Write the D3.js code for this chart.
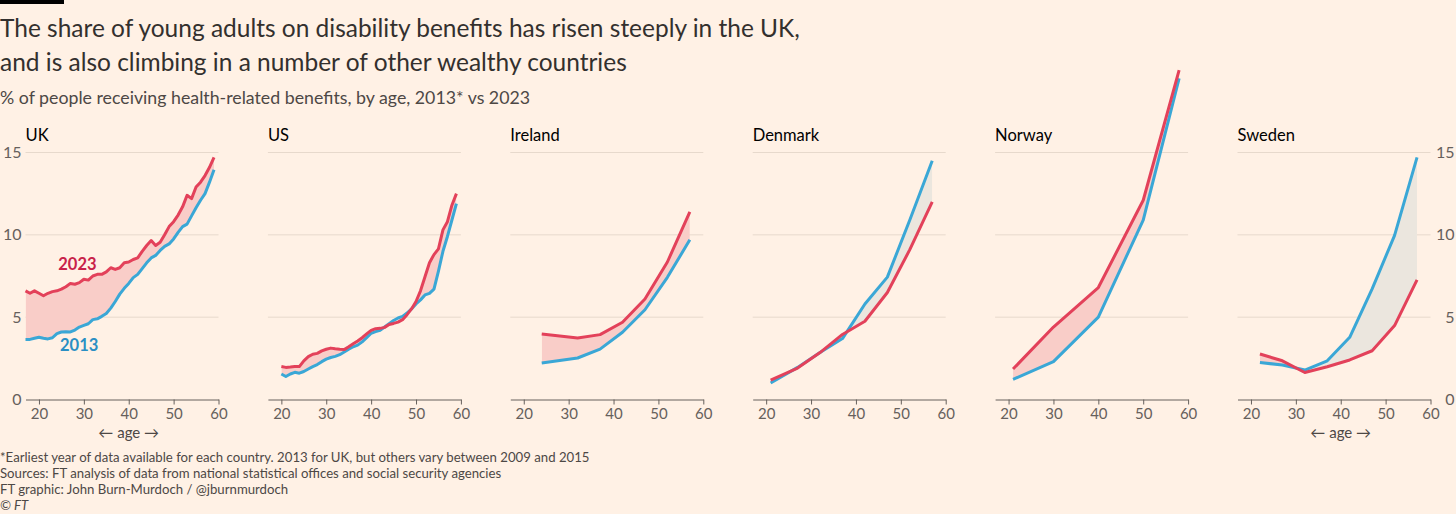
<!DOCTYPE html>
<html><head><meta charset="utf-8">
<script src="https://cdn.jsdelivr.net/npm/d3@7/dist/d3.min.js"></script>
<style>
body{margin:0;background:#fff1e5;}
svg{display:block;font-family:Lato,"Noto Sans",sans-serif;}
</style>
</head><body>
<svg id="chart" width="1456" height="514"></svg>
<script>
// ---------------- DATA ----------------
const countries = ["UK", "US", "Ireland", "Denmark", "Norway", "Sweden"];

const ukAges = [17,18,19,20,21,22,23,24,25,26,27,28,29,30,31,32,33,34,35,36,37,38,39,40,41,42,43,44,45,46,47,48,49,50,51,52,53,54,55,56,57,58,59];
const uk2013 = [3.65,3.65,3.72,3.78,3.72,3.68,3.75,4.0,4.1,4.12,4.1,4.22,4.4,4.5,4.6,4.85,4.9,5.05,5.22,5.55,5.95,6.4,6.75,7.05,7.4,7.6,7.95,8.3,8.6,8.75,9.05,9.3,9.45,9.75,10.15,10.5,10.65,11.15,11.65,12.1,12.5,13.2,13.95];
const uk2023 = [6.6,6.45,6.6,6.45,6.3,6.45,6.55,6.6,6.7,6.85,7.05,7.0,7.1,7.3,7.25,7.5,7.6,7.6,7.75,8.0,7.9,8.0,8.3,8.35,8.5,8.6,9.0,9.35,9.65,9.35,9.55,10.0,10.5,10.8,11.2,11.7,12.4,12.2,12.9,13.2,13.6,14.1,14.7];

const usAges = [20,21,22,23,24,25,26,27,28,29,30,31,32,33,34,35,36,37,38,39,40,41,42,43,44,45,46,47,48,49,50,51,52,53,54,55,56,57,58,59];
const us2013 = [1.55,1.4,1.55,1.65,1.6,1.7,1.85,2.0,2.12,2.3,2.45,2.55,2.62,2.72,2.88,3.05,3.2,3.3,3.5,3.75,4.02,4.12,4.2,4.4,4.6,4.8,4.95,5.05,5.25,5.5,5.8,6.05,6.35,6.45,6.7,7.8,9.0,9.9,10.9,11.9];
const us2023 = [2.0,1.95,1.97,2.0,2.0,2.35,2.6,2.75,2.8,2.95,3.05,3.12,3.08,3.05,3.03,3.2,3.38,3.55,3.75,3.98,4.2,4.3,4.32,4.38,4.55,4.62,4.7,4.85,5.15,5.5,5.95,6.6,7.45,8.3,8.8,9.15,10.3,10.8,11.8,12.5];

const ieAges = [24,32,37,42,47,52,57];
const ie2013 = [2.21,2.52,3.06,4.08,5.45,7.42,9.7];
const ie2023 = [3.98,3.73,3.94,4.69,6.1,8.35,11.4];

const dkAges = [21,27,32,37,42,47,52,57];
const dk2013 = [1.0,1.95,2.85,3.7,5.8,7.43,10.9,14.5];
const dk2023 = [1.18,1.91,2.85,3.95,4.75,6.5,9.1,12.0];

const noAges = [21,30,40,50,58];
const no2013 = [1.22,2.3,5.0,10.9,19.5];
const no2023 = [1.85,4.4,6.8,12.1,20.0];

const seAges = [22,27,32,37,42,47,52,57];
const se2013 = [2.25,2.09,1.79,2.35,3.78,6.72,9.97,14.7];
const se2023 = [2.76,2.35,1.64,1.99,2.4,2.96,4.49,7.27];

const ageTicks = [20, 30, 40, 50, 60];
const valueTicks = [0, 5, 10, 15];
const gridValues = [5, 10, 15];

const titleLines = [
  "The share of young adults on disability benefits has risen steeply in the UK,",
  "and is also climbing in a number of other wealthy countries"
];
const subtitle = "% of people receiving health-related benefits, by age, 2013* vs 2023";
const footLines = [
  "*Earliest year of data available for each country. 2013 for UK, but others vary between 2009 and 2015",
  "Sources: FT analysis of data from national statistical offices and social security agencies",
  "FT graphic: John Burn-Murdoch / @jburnmurdoch"
];

// ---------------- LAYOUT ----------------
const seriesBy = {
  UK: [ukAges, uk2013, uk2023],
  US: [usAges, us2013, us2023],
  Ireland: [ieAges, ie2013, ie2023],
  Denmark: [dkAges, dk2013, dk2023],
  Norway: [noAges, no2013, no2023],
  Sweden: [seAges, se2013, se2023]
};

const W = 1456, H = 514;
const panelLeft0 = 25.5, panelStep = 242.4, panelW = 193;
const yTop = 152.5, yBottom = 399.5;

const C = {
  bg: "#fff1e5", text: "#33302e", sub: "#4d4845", axis: "#66605c",
  grid: "#e7d9cc", red: "#e3415a", blue: "#3aa7d6",
  redLabel: "#c9224a", blueLabel: "#2a8fc4",
  pink: "#f9cdc8", gray: "#ebe6de"
};

const svg = d3.select("#chart");
svg.append("rect").attr("width", W).attr("height", H).attr("fill", C.bg);
svg.append("rect").attr("x", 0).attr("y", 0).attr("width", 64).attr("height", 4).attr("fill", "#000");

function fit(sel, target) {
  const node = sel.node();
  const base = parseFloat(sel.attr("font-size"));
  const w = node.getComputedTextLength();
  sel.attr("font-size", (base * target / w).toFixed(2));
  return base * target / w;
}
const t1 = svg.append("text").attr("x", 0).attr("y", 37).attr("font-size", 22).attr("fill", C.text).text(titleLines[0]);
const ts = fit(t1, 800);
svg.append("text").attr("x", 0).attr("y", 71).attr("font-size", ts).attr("fill", C.text).text(titleLines[1]);
const st = svg.append("text").attr("x", 0).attr("y", 104).attr("font-size", 16).attr("fill", C.sub).text(subtitle);
fit(st, 530);

const y = d3.scaleLinear().domain([0, 15]).range([yBottom, yTop]);

const defs = svg.append("defs");

countries.forEach((name, i) => {
  const [ages, v13, v23] = seriesBy[name];
  const left = panelLeft0 + i * panelStep;
  const x = d3.scaleLinear().domain([17, 60]).range([0, panelW]);
  const g = svg.append("g").attr("transform", `translate(${left},0)`);

  g.selectAll("line.grid").data(gridValues).join("line")
    .attr("x1", x(17)).attr("x2", x(60))
    .attr("y1", d => y(d)).attr("y2", d => y(d))
    .attr("stroke", C.grid).attr("stroke-width", 1);

  const ax = g.append("g").attr("transform", `translate(0,${yBottom})`)
    .call(d3.axisBottom(x).tickValues(ageTicks).tickSize(5).tickSizeOuter(0).tickPadding(4));
  ax.select(".domain").attr("stroke", C.axis);
  ax.selectAll(".tick line").attr("stroke", C.axis);
  ax.selectAll(".tick text").attr("fill", C.axis).attr("font-size", 15).attr("font-family", "Lato, sans-serif");

  g.append("text").attr("x", 0).attr("y", 141).attr("font-size", 16.5).attr("fill", "#000").text(name);

  const pts = ages.map((a, k) => ({ a, b: v13[k], r: v23[k] }));
  const idAbove = "clipA" + i, idBelow = "clipB" + i;
  defs.append("clipPath").attr("id", idAbove).append("path")
    .attr("d", d3.area().x(d => x(d.a)).y0(-200).y1(d => y(d.b))(pts));
  defs.append("clipPath").attr("id", idBelow).append("path")
    .attr("d", d3.area().x(d => x(d.a)).y0(H + 200).y1(d => y(d.b))(pts));
  const band = d3.area().x(d => x(d.a)).y0(d => y(d.b)).y1(d => y(d.r));
  g.append("path").attr("d", band(pts)).attr("fill", C.pink).attr("clip-path", `url(#${idAbove})`);
  g.append("path").attr("d", band(pts)).attr("fill", C.gray).attr("clip-path", `url(#${idBelow})`);

  const line = key => d3.line().x(d => x(d.a)).y(d => y(d[key]));
  g.append("path").attr("d", line("b")(pts)).attr("fill", "none").attr("stroke", C.blue)
    .attr("stroke-width", 3).attr("stroke-linejoin", "round");
  g.append("path").attr("d", line("r")(pts)).attr("fill", "none").attr("stroke", C.red)
    .attr("stroke-width", 3).attr("stroke-linejoin", "round");

  if (i === 0) {
    g.selectAll("text.yl").data(valueTicks).join("text")
      .attr("x", -4).attr("y", d => y(d)).attr("dy", "0.35em")
      .attr("text-anchor", "end").attr("font-size", 16).attr("fill", C.axis).text(d => d);
    g.append("text").attr("x", x(24.3)).attr("y", 270).attr("font-size", 16.5).attr("font-weight", 700)
      .attr("fill", C.redLabel).text("2023");
    g.append("text").attr("x", x(24.7)).attr("y", 351).attr("font-size", 16.5).attr("font-weight", 700)
      .attr("fill", C.blueLabel).text("2013");
  }
  if (i === countries.length - 1) {
    g.selectAll("text.yr").data(valueTicks).join("text")
      .attr("x", panelW + 24).attr("y", d => y(d)).attr("dy", "0.35em")
      .attr("text-anchor", "end").attr("font-size", 16).attr("fill", C.axis).text(d => d);
  }
  if (i === 0 || i === countries.length - 1) {
    g.append("text").attr("x", x(40)).attr("y", 438).attr("text-anchor", "middle")
      .attr("font-size", 15).attr("fill", C.sub).text("\u2190 age \u2192");
  }
});

const f1 = svg.append("text").attr("x", 0).attr("y", 462).attr("font-size", 13).attr("fill", C.sub).text(footLines[0]);
const fs = fit(f1, 590);
svg.append("text").attr("x", 0).attr("y", 478).attr("font-size", fs).attr("fill", C.sub).text(footLines[1]);
svg.append("text").attr("x", 0).attr("y", 494).attr("font-size", fs).attr("fill", C.sub).text(footLines[2]);
svg.append("text").attr("x", 0).attr("y", 510).attr("font-size", fs).attr("font-style", "italic").attr("fill", C.sub).text("\u00a9 FT");
</script>
</body></html>
